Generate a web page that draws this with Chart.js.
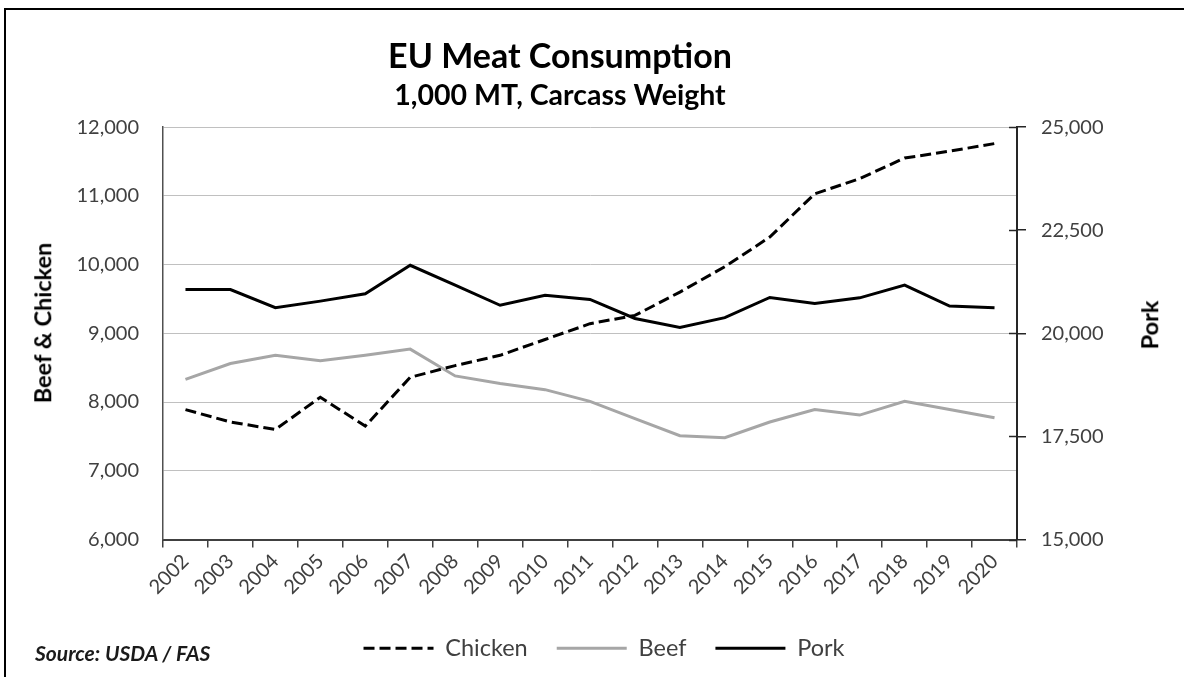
<!DOCTYPE html>
<html>
<head>
<meta charset="utf-8">
<script src="https://cdn.jsdelivr.net/npm/chart.js@4"></script>
<style>
html,body{margin:0;padding:0;background:#fff;overflow:hidden;width:1184px;height:677px;}
#frame{position:absolute;left:4px;top:8px;width:1200px;height:700px;border:2px solid #000;box-sizing:border-box;}
#c{position:absolute;left:0;top:0;}
.lbl{position:absolute;font-family:Lato,"Open Sans",sans-serif;color:#000;white-space:nowrap;line-height:1;}
#src{left:35px;top:642px;font-size:21px;font-weight:bold;font-style:italic;color:#1a1a1a;}
.ytitle{font-size:23.5px;font-weight:bold;transform:translate(-50%,-50%) rotate(-90deg);}
</style>
</head>
<body>
<div id="frame"></div>
<canvas id="c" width="1184" height="677"></canvas>
<div class="lbl ytitle" id="ltitle" style="left:43px;top:323px;">Beef &amp; Chicken</div>
<div class="lbl ytitle" id="rtitle" style="left:1150px;top:325px;">Pork</div>
<div class="lbl" id="src">Source: USDA / FAS</div>
<script>
const years = ['2002','2003','2004','2005','2006','2007','2008','2009','2010','2011','2012','2013','2014','2015','2016','2017','2018','2019','2020'];
const chicken = [7890, 7710, 7600, 8070, 7650, 8360, 8530, 8680, 8910, 9140, 9260, 9600, 9970, 10400, 11030, 11250, 11550, 11650, 11760];
const beef = [8330, 8560, 8680, 8600, 8680, 8770, 8380, 8270, 8180, 8010, 7760, 7510, 7480, 7710, 7890, 7810, 8010, 7890, 7770];
const pork = [21060, 21060, 20620, 20780, 20960, 21650, 21170, 20680, 20920, 20820, 20360, 20140, 20380, 20870, 20720, 20860, 21170, 20660, 20620];
const leftTicks = [6000, 7000, 8000, 9000, 10000, 11000, 12000];
const rightTicks = [15000, 17500, 20000, 22500, 25000];
const titleText = 'EU Meat Consumption';
const subtitleText = '1,000 MT, Carcass Weight';
const seriesNames = ['Chicken', 'Beef', 'Pork'];

function fmt(v){ return Number(v).toLocaleString('en-US'); }

const adjustPlugin = {
  id: 'adjust',
  afterLayout(chart){
    chart.boxes.forEach(b => {
      if (b === chart.legend) return;
      if (b === chart.titleBlock || (b.options && b.options.text === subtitleText)) {
        b.left -= 32; b.right -= 32;
      }
    });
    if (chart.legend) { chart.legend.left += 14; chart.legend.right += 14; }
  },
  afterDraw(chart){
    const s = chart.scales.y1;
    const ctx = chart.ctx;
    ctx.save();
    ctx.strokeStyle = '#262626';
    ctx.lineWidth = 1.5;
    s.ticks.forEach(t => {
      const y = Math.round(s.getPixelForValue(t.value)) + 0.5;
      ctx.beginPath();
      ctx.moveTo(chart.chartArea.right - 8, y);
      ctx.lineTo(chart.chartArea.right, y);
      ctx.stroke();
    });
    ctx.restore();
  }
};

function draw(){
  Chart.defaults.font.family = 'Lato, "Open Sans", sans-serif';
  Chart.defaults.color = '#404040';
  new Chart(document.getElementById('c'), {
    type: 'line',
    data: {
      labels: years,
      datasets: [
        {label: seriesNames[0], data: chicken, yAxisID: 'y', borderColor: '#000', backgroundColor: '#000', borderWidth: 3, borderDash: [11, 5], pointRadius: 0, tension: 0, fill: false},
        {label: seriesNames[1], data: beef, yAxisID: 'y', borderColor: '#a6a6a6', backgroundColor: '#a6a6a6', borderWidth: 3, pointRadius: 0, tension: 0, fill: false},
        {label: seriesNames[2], data: pork, yAxisID: 'y1', borderColor: '#000', backgroundColor: '#000', borderWidth: 3, pointRadius: 0, tension: 0, fill: false}
      ]
    },
    options: {
      responsive: false,
      animation: false,
      devicePixelRatio: 1,
      layout: {padding: {left: 0, right: 0, top: 0, bottom: 7}},
      plugins: {
        tooltip: {enabled: false},
        title: {display: true, text: titleText, color: '#000', font: {size: 34, weight: 'bold'}, padding: {top: 37, bottom: 0}},
        subtitle: {display: true, text: subtitleText, color: '#000', font: {size: 28.5, weight: 'bold'}, padding: {top: 1.2, bottom: 13.9}},
        legend: {
          display: true, position: 'bottom', fullSize: false,
          labels: {
            usePointStyle: true, pointStyle: 'line', pointStyleWidth: 70, font: {size: 23.5}, color: '#404040', padding: 29,
            generateLabels(chart){
              const items = Chart.defaults.plugins.legend.labels.generateLabels(chart);
              items.forEach(it => {
                const ds = chart.data.datasets[it.datasetIndex];
                it.lineDash = ds.borderDash || [];
                it.lineWidth = ds.borderWidth;
                it.strokeStyle = ds.borderColor;
                it.fillStyle = ds.borderColor;
              });
              return items;
            }
          }
        }
      },
      scales: {
        x: {
          type: 'category', offset: true,
          grid: {offset: true, drawOnChartArea: false, drawTicks: true, tickLength: 8, color: '#404040', lineWidth: 1.5},
          border: {display: true, color: '#404040', width: 2},
          ticks: {autoSkip: false, minRotation: 45, maxRotation: 45, padding: 2, font: {size: 20}, color: '#404040'},
          afterFit(s){ s.height = 68; }
        },
        y: {
          position: 'left', min: leftTicks[0], max: leftTicks[leftTicks.length - 1],
          ticks: {stepSize: leftTicks[1] - leftTicks[0], padding: 24, font: {size: 20}, color: '#404040', callback: fmt},
          grid: {color: '#c0c0c0', lineWidth: 1, drawTicks: false},
          border: {display: true, color: '#505050', width: 1.5},
          afterFit(s){ s.width = 163; }
        },
        y1: {
          position: 'right', min: rightTicks[0], max: rightTicks[rightTicks.length - 1],
          ticks: {stepSize: rightTicks[1] - rightTicks[0], padding: 15, font: {size: 20}, color: '#404040', callback: fmt},
          grid: {drawOnChartArea: false, drawTicks: true, tickLength: 9, color: '#262626', lineWidth: 1.5},
          border: {display: true, color: '#262626', width: 2},
          afterFit(s){ s.width = 167; }
        }
      }
    },
    plugins: [adjustPlugin]
  });
}
if (document.fonts && document.fonts.load) {
  Promise.all([document.fonts.load('20px Lato'), document.fonts.load('bold 20px Lato')]).then(draw, draw);
} else { draw(); }
</script>
</body>
</html>
